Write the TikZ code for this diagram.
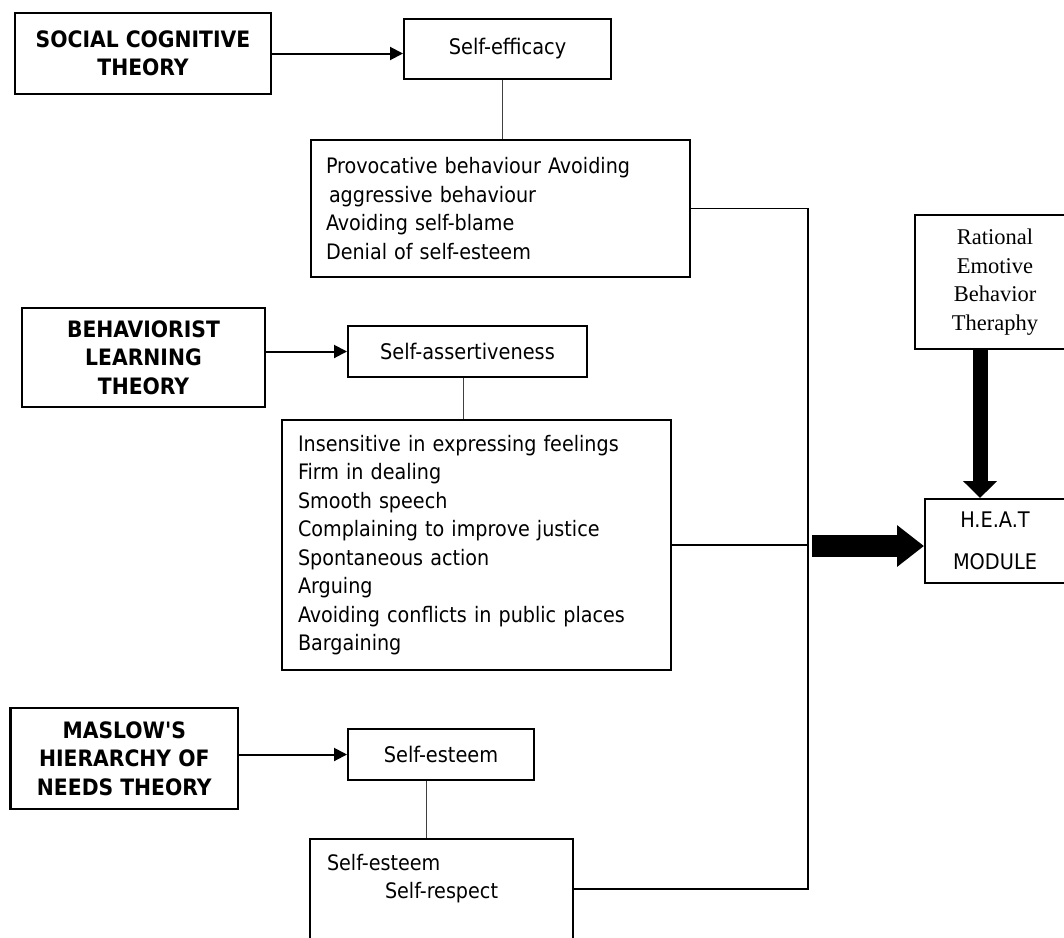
\documentclass[tikz,border=0pt]{standalone}
\usepackage{fontspec}
\setmainfont{DejaVu Sans Condensed}
\newfontfamily\timesfont{Liberation Serif}
\usetikzlibrary{arrows.meta}

\begin{document}
\begin{tikzpicture}[x=1pt, y=-1pt,
    theory/.style={draw, line width=2.3pt, align=center, inner sep=0pt,
      font=\bfseries\fontsize{22.6}{28.5}\selectfont},
    effect/.style={draw, line width=2pt, inner sep=0pt,
      font=\fontsize{21.5}{28.5}\selectfont},
    listbox/.style={draw, line width=2pt, align=left, inner ysep=0pt,
      font=\fontsize{21.3}{28.5}\selectfont},
    link/.style={line width=1.8pt},
    stem/.style={line width=1pt, black!75},
    arr/.style={line width=2pt, -{Triangle[length=13pt,width=13pt]}},
    fat/.style={line width=22pt, -{Triangle[length=27pt,width=40pt]}},
    fatdown/.style={line width=15pt, -{Triangle[length=17pt,width=33pt]}}]
  \fill[white] (0,0) rectangle (1064,937);
  \useasboundingbox (0,0) rectangle (1064,937);
  \clip (0,0) rectangle (1064,937);
  \draw
    (143,53.5) node[theory, minimum width=256pt, minimum height=81pt] (sct)
      {SOCIAL COGNITIVE\\THEORY}
    (507.5,49) node[effect, minimum width=207pt, minimum height=60pt] (eff)
      {Self-efficacy}
    (500.5,208.5) node[listbox, minimum height=137pt, text width=349pt,
      inner xsep=15pt] (prov)
      {Provocative behaviour Avoiding\\\hspace*{3pt}aggressive behaviour\\
       Avoiding self-blame\\Denial of self-esteem}
    (143.5,357.5) node[theory, minimum width=243pt, minimum height=99pt] (blt)
      {BEHAVIORIST\\LEARNING\\THEORY}
    (467.5,351.5) node[effect, minimum width=239pt, minimum height=51pt] (ass)
      {Self-assertiveness}
    (476.5,545) node[listbox, minimum height=250pt, text width=357pt,
      inner xsep=16pt] (ins)
      {Insensitive in expressing feelings\\Firm in dealing\\Smooth speech\\
       Complaining to improve justice\\Spontaneous action\\Arguing\\
       Avoiding conflicts in public places\\Bargaining}
    (124.25,758.5) node[theory, minimum width=227.5pt, minimum height=101pt] (mhn)
      {MASLOW\textquotesingle S\\HIERARCHY OF\\NEEDS THEORY}
    (441,754.5) node[effect, minimum width=186pt, minimum height=51pt] (est)
      {Self-esteem}
    (309,838) node[listbox, anchor=north west, inner sep=0pt] (es2)
      {\parbox[t][130pt][t]{263pt}{\rule{0pt}{31pt}\hspace*{17pt}Self-esteem\\
       \hspace*{75pt}Self-respect}}
    (995,282) node[draw, line width=2pt, minimum width=160pt, minimum height=134pt,
      align=center, font=\timesfont\fontsize{22.5}{28.7}\selectfont] (reb)
      {Rational\\Emotive\\Behavior\\Theraphy}
    (995,541) node[draw, line width=2pt, minimum width=140pt, minimum height=84pt,
      align=center, font=\fontsize{21.5}{42}\selectfont] (heat)
      {H.E.A.T\\MODULE};
  \coordinate (jb) at (808,889);
  \coordinate (fs) at (812,546);
  \begin{scope}[arr]
    \draw (sct.east) -- (sct.east -| eff.west);
    \draw (ass.west -| blt.east) -- (ass.west);
    \draw (est.west -| mhn.east) -- (est.west);
  \end{scope}
  \begin{scope}[stem]
    \draw ([xshift=-5.5pt]eff.south) -- ([xshift=-5.5pt]eff.south |- prov.north);
    \draw ([xshift=-4.5pt]ass.south) -- ([xshift=-4.5pt]ass.south |- ins.north);
    \draw ([xshift=-14.5pt]est.south) -- ([xshift=-14.5pt]est.south |- es2.north);
  \end{scope}
  \begin{scope}[link]
    \draw (prov.east) -| (jb) -- (jb -| es2.east);
    \draw (ins.east) -- (ins.east -| jb);
  \end{scope}
  \draw[fat] (fs) -- (fs -| heat.west);
  \draw[fatdown] ([xshift=-15pt]reb.south) -- ([xshift=-15pt]heat.north);
\end{tikzpicture}
\end{document}
